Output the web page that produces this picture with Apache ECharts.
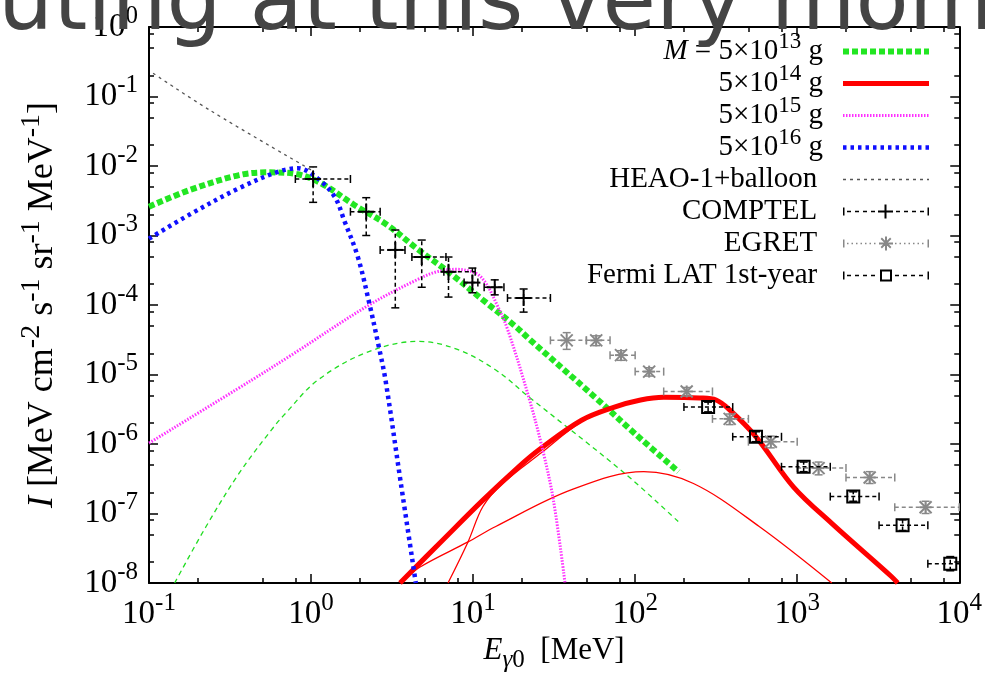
<!DOCTYPE html>
<html>
<head>
<meta charset="utf-8">
<script src="https://cdn.jsdelivr.net/npm/echarts@6/dist/echarts.min.js"></script>
<style>
html,body{margin:0;padding:0;background:#fff}
#main{width:985px;height:685px}
</style>
</head>
<body>
<div id="main"></div>
<script>
// model curves, [E (MeV), I]
var m13Main = [[0.1,2.6e-3],[0.178,4.5e-3],[0.36,7.4e-3],[0.55,8.1e-3],[0.83,7.6e-3],[1.16,5.6e-3],[1.85,2.75e-3],[2.95,1.42e-3],[4.49,6.5e-4],[7.17,2.9e-4],[11.5,1.18e-4],[18.3,4.9e-5],[22,3.3e-5],[56,4.8e-6],[100,1.4e-6],[185,4.0e-7]];
var m13Sec = [[0.144,1e-8],[0.225,6.5e-8],[0.36,3.8e-7],[0.57,1.6e-6],[0.69,2.7e-6],[1.1,8.3e-6],[2.23,2.1e-5],[4.6,3.0e-5],[8,2.3e-5],[13.8,1.16e-5],[22,4.8e-6],[86,3.8e-7],[185,7.6e-8]];
var m14Main = [[3.54,1e-8],[6.53,4.2e-8],[11.5,1.56e-7],[19.1,4.7e-7],[25.4,8.2e-7],[46.7,2.2e-6],[74.5,3.4e-6],[108,4.3e-6],[150,4.7e-6],[250,4.6e-6],[316,4.3e-6],[383,3.1e-6],[557,1.27e-6],[950,2.4e-7],[1634,7.2e-8],[3800,1.25e-8],[4170,1e-8]];
var m14Low = [[3.54,1e-8],[4.71,1.7e-8],[9.3,3.9e-8],[13.8,6.5e-8],[40.6,2.2e-7],[113,4.0e-7],[229,2.7e-7],[583,6.5e-8],[1634,1e-8]];
var m14Steep = [[7.0,1e-8],[9.3,3.9e-8],[11.5,1.26e-7],[15.2,2.7e-7],[26.6,7.6e-7],[46.7,2.1e-6],[74.5,3.3e-6]];
var m15 = [[0.1,1.03e-6],[0.43,8.3e-6],[0.755,1.9e-5],[2.28,1.0e-4],[4.49,2.3e-4],[5.94,3.0e-4],[7.87,3.26e-4],[10.4,2.86e-4],[12,2.05e-4],[13.8,1.1e-4],[16.3,4.5e-5],[22,4.8e-6],[26.6,9.1e-7],[31.3,1.56e-7],[36.9,1e-8]];
var m16 = [[0.1,9e-4],[0.178,2.0e-3],[0.36,4.8e-3],[0.63,8.3e-3],[0.83,9.3e-3],[1.1,6.6e-3],[1.4,3.6e-3],[1.6,1.66e-3],[1.94,5.0e-4],[2.28,1.1e-4],[2.62,2.5e-5],[2.88,8.3e-6],[3.56,3.0e-7],[4.43,1e-8]];
var heao = [[0.106,0.216],[0.236,0.064],[1.0,0.0088]];

// data points: [E, I, Elo, Ehi, Ilo, Ihi]
var comptel = [
  [1.03,6.5e-3,0.80,1.75,3.0e-3,9.7e-3],
  [2.19,2.2e-3,1.75,2.67,1.0e-3,3.5e-3],
  [3.31,6.2e-4,2.67,3.8,9.1e-5,1.2e-3],
  [4.82,4.9e-4,4.19,6.8,1.8e-4,8.6e-4],
  [7.05,3.0e-4,6.6,10.3,1.3e-4,4.9e-4],
  [9.9,2.1e-4,8.8,10.7,1.5e-4,3.4e-4],
  [13.6,1.8e-4,11.7,15.5,1.4e-4,2.3e-4],
  [20.5,1.26e-4,16.3,30,7.9e-5,1.7e-4]
];
var egret = [
  [37.8,3.1e-5,30,50,2.3e-5,4.0e-5],
  [57.5,3.1e-5,50,70,2.6e-5,3.6e-5],
  [81.8,1.9e-5,70,100,1.6e-5,2.2e-5],
  [122,1.1e-5,100,150,0.95e-5,1.25e-5],
  [208,5.7e-6,150,300,4.9e-6,6.5e-6],
  [383,2.3e-6,300,500,1.9e-6,2.7e-6],
  [687,1.08e-6,500,1000,0.88e-6,1.3e-6],
  [1355,4.5e-7,1000,2000,3.6e-7,5.5e-7],
  [2800,3.3e-7,2000,4000,2.7e-7,4.0e-7],
  [6200,1.23e-7,4000,10000,1.0e-7,1.5e-7]
];
var fermi = [
  [282,3.4e-6,200,400,2.9e-6,4.0e-6],
  [557,1.27e-6,400,800,1.08e-6,1.5e-6],
  [1096,4.7e-7,800,1600,4.0e-7,5.5e-7],
  [2218,1.75e-7,1600,3200,1.5e-7,2.05e-7],
  [4470,6.8e-8,3200,6400,5.7e-8,8.1e-8],
  [8800,1.9e-8,6400,12800,1.5e-8,2.4e-8]
];

var xMajor = [0.1, 1, 10, 100, 1000, 10000];
var yMajor = [1e-8, 1e-7, 1e-6, 1e-5, 1e-4, 1e-3, 1e-2, 1e-1, 1];
var minorSteps = [2, 5, 8];

// every entry carries a superscript-sized token so all rows get the same height
var legendText = {
  'M13': '{i|M} = 5×10{s|13} g{sp| }',
  'M14': '5×10{s|14} g{sp| }',
  'M15': '5×10{s|15} g{sp| }',
  'M16': '5×10{s|16} g{sp| }',
  'HEAO-1+balloon': 'HEAO-1+balloon{s| }{sp| }',
  'COMPTEL': 'COMPTEL{s| }{sp| }',
  'EGRET': 'EGRET{s| }{sp| }',
  'Fermi LAT 1st-year': 'Fermi LAT 1st-year{s| }{sp| }'
};

var SERIF = 'Liberation Serif';

function minors(major) {
  var out = [];
  major.forEach(function (m) {
    minorSteps.forEach(function (s) { out.push(m * s); });
  });
  return out;
}
var xMinor = minors(xMajor.slice(0, -1));
var yMinor = minors(yMajor.slice(0, -1));

function powLabel(v) {
  var e = Math.round(Math.log(v) / Math.LN10);
  return '{b|10}{s|' + e + '}';
}

// superscripts: verticalAlign top + small token height lifts them
var labelRich = {
  b: {fontFamily: SERIF, fontSize: 33, lineHeight: 36, color: '#000'},
  s: {fontFamily: SERIF, fontSize: 25, height: 14, lineHeight: 14, verticalAlign: 'top', color: '#000'}
};

function R(x, y, w, h) { return 'M' + x + ',' + y + 'h' + w + 'v' + h + 'h' + (-w) + 'z'; }
function dashes(from, to, len, gap) {
  var p = '';
  for (var x = from; x + len <= to; x += len + gap) p += R(x, 6.25, len, 1.5);
  return p;
}
var iconComptel = 'path://' + R(0,3,1.5,8) + dashes(4,33,4,4) + R(35,6,15,2) + R(41.5,0,2,14) + dashes(53,83,4,4) + R(84.5,3,1.5,8);
var iconFermi = 'path://' + R(0,3,1.5,8) + dashes(4,35,4,4) + R(37,1,12,2) + R(37,11,12,2) + R(37,1,2,12) + R(47,1,2,12) + dashes(52,83,4,4) + R(84.5,3,1.5,8);
var iconEgret = 'path://' + R(0,3,1.5,8) + dashes(4,35,1.5,3) + R(36,6,14,2) + R(42,0,2,14) +
  'M37.6,2.4L38.9,1.1L48.4,10.6L47.1,11.9Z M47.1,1.1L48.4,2.4L38.9,11.9L37.6,10.6Z' + dashes(52,83,1.5,3) + R(84.5,3,1.5,8);

function errRender(kind, color) {
  return function (params, api) {
    var x = api.value(0), y = api.value(1);
    var c = api.coord([x, y]);
    var l = api.coord([api.value(2), y]);
    var r = api.coord([api.value(3), y]);
    var b = api.coord([x, api.value(4)]);
    var t = api.coord([x, api.value(5)]);
    var dash = {stroke: color, lineWidth: 1.5, lineDash: [4, 3], fill: null};
    var solid = {stroke: color, lineWidth: 1.5, fill: null};
    var kids = [
      {type: 'line', shape: {x1: l[0], y1: c[1], x2: r[0], y2: c[1]}, style: dash},
      {type: 'line', shape: {x1: c[0], y1: b[1], x2: c[0], y2: t[1]}, style: dash},
      {type: 'line', shape: {x1: l[0], y1: c[1] - 4, x2: l[0], y2: c[1] + 4}, style: solid},
      {type: 'line', shape: {x1: r[0], y1: c[1] - 4, x2: r[0], y2: c[1] + 4}, style: solid},
      {type: 'line', shape: {x1: c[0] - 4, y1: b[1], x2: c[0] + 4, y2: b[1]}, style: solid},
      {type: 'line', shape: {x1: c[0] - 4, y1: t[1], x2: c[0] + 4, y2: t[1]}, style: solid}
    ];
    var sym = {stroke: color, lineWidth: 2, fill: null};
    if (kind === 'plus') {
      kids.push({type: 'line', shape: {x1: c[0] - 8, y1: c[1], x2: c[0] + 8, y2: c[1]}, style: sym});
      kids.push({type: 'line', shape: {x1: c[0], y1: c[1] - 8, x2: c[0], y2: c[1] + 8}, style: sym});
    } else if (kind === 'star') {
      var s = 6;
      kids.push({type: 'line', shape: {x1: c[0] - s, y1: c[1], x2: c[0] + s, y2: c[1]}, style: sym});
      kids.push({type: 'line', shape: {x1: c[0], y1: c[1] - s, x2: c[0], y2: c[1] + s}, style: sym});
      kids.push({type: 'line', shape: {x1: c[0] - s, y1: c[1] - s, x2: c[0] + s, y2: c[1] + s}, style: sym});
      kids.push({type: 'line', shape: {x1: c[0] - s, y1: c[1] + s, x2: c[0] + s, y2: c[1] - s}, style: sym});
    } else {
      kids.push({type: 'rect', shape: {x: c[0] - 6, y: c[1] - 6, width: 12, height: 12}, style: sym});
    }
    return {type: 'group', children: kids};
  };
}

function lineS(name, data, color, width, type) {
  return {
    name: name, type: 'line', data: data, symbol: 'none', showSymbol: false,
    smooth: 0.35, silent: true,
    lineStyle: {color: color, width: width, type: type, cap: 'butt'},
    itemStyle: {color: color}
  };
}
function errS(name, data, kind, color) {
  return {
    name: name, type: 'custom', data: data, renderItem: errRender(kind, color),
    encode: {x: 0, y: 1}, clip: true, silent: true, z: 5,
    itemStyle: {color: color}
  };
}

function axisCommon(extra) {
  var o = {
    type: 'log', logBase: 10, splitLine: {show: false},
    axisLine: {show: false, onZero: false},
    axisTick: {show: false}, axisLabel: {show: false}
  };
  for (var k in extra) o[k] = extra[k];
  return o;
}

var noSym = {opacity: 0};

var chart = echarts.init(document.getElementById('main'));
chart.setOption({
  animation: false,
  backgroundColor: '#fff',
  grid: {left: 149, right: 17, top: 27, bottom: 102},
  graphic: [{
    type: 'text', left: -2, top: -37, z: 100, silent: true,
    style: {text: 'uting at this very mome', font: '87px "DejaVu Sans"', fill: '#444'}
  }],
  legend: {
    orient: 'vertical', align: 'right', right: 53, top: 30, padding: 0,
    itemWidth: 86, itemHeight: 14, itemGap: -4.5, selectedMode: false,
    lineStyle: {width: 'inherit'},
    data: [
      {name: 'M13', itemStyle: noSym}, {name: 'M14', itemStyle: noSym},
      {name: 'M15', itemStyle: noSym}, {name: 'M16', itemStyle: noSym},
      {name: 'HEAO-1+balloon', itemStyle: noSym},
      {name: 'COMPTEL', icon: iconComptel},
      {name: 'EGRET', icon: iconEgret},
      {name: 'Fermi LAT 1st-year', icon: iconFermi}
    ],
    formatter: function (n) { return legendText[n]; },
    textStyle: {
      fontFamily: SERIF, fontSize: 29, lineHeight: 30, color: '#000',
      rich: {
        i: {fontFamily: SERIF, fontSize: 29, fontStyle: 'italic', lineHeight: 30},
        s: {fontFamily: SERIF, fontSize: 23, height: 10, lineHeight: 10, verticalAlign: 'top'},
        sp: {width: 15}
      }
    }
  },
  xAxis: [
    axisCommon({
      position: 'bottom', min: 0.1, max: 10000,
      axisLine: {show: true, onZero: false, lineStyle: {color: '#000', width: 2}},
      axisTick: {show: true, inside: true, length: 9, customValues: xMajor, lineStyle: {color: '#000', width: 1.5}},
      axisLabel: {show: true, customValues: xMajor, margin: 13, formatter: powLabel, rich: labelRich},
      name: '{i|E}{g|γ}{n|0}{t|  [MeV]}', nameLocation: 'middle', nameGap: 47,
      nameTextStyle: {
        rich: {
          i: {fontFamily: SERIF, fontSize: 31, fontStyle: 'italic', lineHeight: 36, color: '#000'},
          g: {fontFamily: SERIF, fontSize: 25, fontStyle: 'italic', height: 16, lineHeight: 16, verticalAlign: 'bottom', color: '#000'},
          n: {fontFamily: SERIF, fontSize: 25, height: 16, lineHeight: 16, verticalAlign: 'bottom', color: '#000'},
          t: {fontFamily: SERIF, fontSize: 31, lineHeight: 36, color: '#000'}
        }
      }
    }),
    axisCommon({
      position: 'bottom', min: 0.1, max: 10000,
      axisTick: {show: true, inside: true, length: 5, customValues: xMinor, lineStyle: {color: '#000', width: 1.5}}
    }),
    axisCommon({
      position: 'top', min: 0.1, max: 10000,
      axisLine: {show: true, onZero: false, lineStyle: {color: '#000', width: 2}},
      axisTick: {show: true, inside: true, length: 9, customValues: xMajor, lineStyle: {color: '#000', width: 1.5}}
    }),
    axisCommon({
      position: 'top', min: 0.1, max: 10000,
      axisTick: {show: true, inside: true, length: 5, customValues: xMinor, lineStyle: {color: '#000', width: 1.5}}
    })
  ],
  yAxis: [
    axisCommon({
      position: 'left', min: 1e-8, max: 1,
      axisLine: {show: true, onZero: false, lineStyle: {color: '#000', width: 2}},
      axisTick: {show: true, inside: true, length: 9, customValues: yMajor, lineStyle: {color: '#000', width: 1.5}},
      axisLabel: {show: true, customValues: yMajor, margin: 11, formatter: powLabel, rich: labelRich},
      name: '{i|I}{t| [MeV cm}{s|-2}{t| s}{s|-1}{t| sr}{s|-1}{t| MeV}{s|-1}{t|]}',
      nameLocation: 'middle', nameRotate: 90, nameGap: 86,
      nameTextStyle: {
        rich: {
          i: {fontFamily: SERIF, fontSize: 36, fontStyle: 'italic', lineHeight: 40, color: '#000'},
          t: {fontFamily: SERIF, fontSize: 36, lineHeight: 40, color: '#000'},
          s: {fontFamily: SERIF, fontSize: 28, height: 17, lineHeight: 17, verticalAlign: 'top', color: '#000'}
        }
      }
    }),
    axisCommon({
      position: 'left', min: 1e-8, max: 1,
      axisTick: {show: true, inside: true, length: 5, customValues: yMinor, lineStyle: {color: '#000', width: 1.5}}
    }),
    axisCommon({
      position: 'right', min: 1e-8, max: 1,
      axisLine: {show: true, onZero: false, lineStyle: {color: '#000', width: 2}},
      axisTick: {show: true, inside: true, length: 9, customValues: yMajor, lineStyle: {color: '#000', width: 1.5}}
    }),
    axisCommon({
      position: 'right', min: 1e-8, max: 1,
      axisTick: {show: true, inside: true, length: 5, customValues: yMinor, lineStyle: {color: '#000', width: 1.5}}
    })
  ],
  series: [
    lineS('HEAO-1+balloon', heao, '#555', 1.3, [3, 4]),
    lineS('M13', m13Main, '#22e622', 6, [6, 3]),
    lineS('M13', m13Sec, '#22dd22', 1.3, [5, 4]),
    lineS('M14', m14Main, '#ff0000', 5, 'solid'),
    lineS('M14', m14Low, '#ff0000', 1.3, 'solid'),
    lineS('M14', m14Steep, '#ff0000', 1.3, 'solid'),
    lineS('M15', m15, '#ff30ff', 3, [1.5, 1.5]),
    lineS('M16', m16, '#1010ff', 4.5, [3.5, 4]),
    errS('COMPTEL', comptel, 'plus', '#000'),
    errS('EGRET', egret, 'star', '#888'),
    errS('Fermi LAT 1st-year', fermi, 'square', '#000')
  ]
});
</script>
</body>
</html>
